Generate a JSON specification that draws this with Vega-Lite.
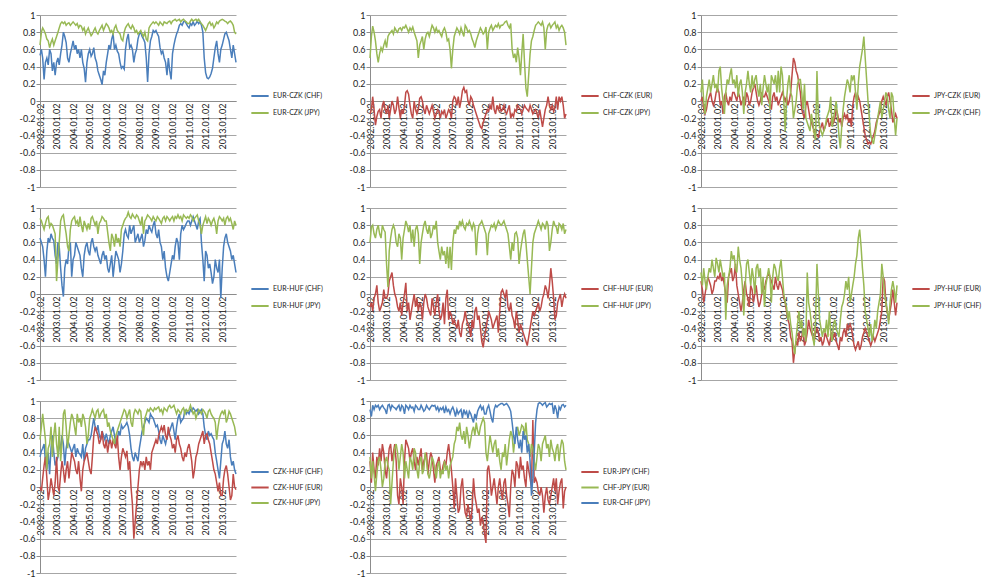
{
"$schema": "https://vega.github.io/schema/vega-lite/v6.json",
"background": "white",
"padding": {"left": 19, "top": 11, "right": 0, "bottom": 0},
"columns": 3,
"spacing": {"row": 12, "column": 26},
"resolve": {"scale": {"color": "independent", "x": "independent", "y": "independent"}, "legend": {"color": "independent"}},
"config": {
 "view": {"stroke": null},
 "font": "Lato",
 "axisX": {"grid": false, "ticks": false, "labelAngle": 270, "labelPadding": 2, "labelOverlap": false, "labelFlush": false, "labelBound": false, "domainColor": "#8c8c8c", "labelFont": "Lato", "labelFontSize": 9, "labelColor": "#222222"},
 "axisY": {"grid": true, "gridColor": "#a6a6a6", "domainColor": "#8c8c8c", "tickColor": "#8c8c8c", "tickSize": 4, "labelPadding": 1, "labelFont": "Lato", "labelFontSize": 9, "labelColor": "#222222", "labelExpr": "replace(format(datum.value,'~g'),'\u2212','-')"},
 "legend": {"orient": "none", "symbolType": "stroke", "symbolSize": 300, "symbolStrokeWidth": 2, "labelFont": "Lato", "labelFontSize": 7, "labelColor": "#222222", "labelOffset": 3, "rowPadding": 3, "padding": 0}
},
"data": {"values": [
{"t":"2002-01","a":0.53,"b":0.65,"c":-0.15,"d":0.5,"e":0,"f":0.1,"g":0.65,"h":0.88,"i":-0.15,"j":0.6,"k":0.15,"l":0.25,"m":0.35,"n":0,"o":0.55,"p":0.3,"q":0.35,"r":0.9},
{"t":"2002-02","a":0.6,"b":0.8,"c":-0.1,"d":0.75,"e":0.05,"f":0.25,"g":0.6,"h":0.85,"i":-0.1,"j":0.78,"k":0.05,"l":0.1,"m":0.42,"n":-0.05,"o":0.7,"p":0.05,"q":0.1,"r":0.82},
{"t":"2002-03","a":0.5,"b":0.85,"c":0.05,"d":0.87,"e":-0.1,"f":0,"g":0.55,"h":0.8,"i":-0.2,"j":0.8,"k":-0.1,"l":0.3,"m":0.45,"n":0.1,"o":0.85,"p":0.4,"q":0.3,"r":0.95},
{"t":"2002-04","a":0.25,"b":0.82,"c":-0.1,"d":0.8,"e":-0.15,"f":-0.15,"g":0.4,"h":0.75,"i":-0.05,"j":0.7,"k":0,"l":0.15,"m":0.5,"n":0.25,"o":0.7,"p":0.2,"q":0.15,"r":0.9},
{"t":"2002-05","a":0.45,"b":0.78,"c":-0.28,"d":0.7,"e":-0.1,"f":0.05,"g":0.2,"h":0.82,"i":0,"j":0.65,"k":0.1,"l":0.05,"m":0.3,"n":0.35,"o":0.55,"p":0.1,"q":-0.05,"r":0.95},
{"t":"2002-06","a":0.5,"b":0.72,"c":-0.18,"d":0.55,"e":0,"f":0.15,"g":0.5,"h":0.88,"i":0.1,"j":0.75,"k":0.2,"l":0.2,"m":0.2,"n":0.1,"o":0.2,"p":0.35,"q":0.15,"r":0.93},
{"t":"2002-07","a":0.42,"b":0.7,"c":-0.12,"d":0.45,"e":0.05,"f":0.25,"g":0.65,"h":0.9,"i":-0.1,"j":0.8,"k":0.15,"l":0.3,"m":0.4,"n":-0.15,"o":0.45,"p":0.25,"q":0.3,"r":0.95},
{"t":"2002-08","a":0.6,"b":0.62,"c":-0.1,"d":0.55,"e":0.1,"f":0.1,"g":0.6,"h":0.78,"i":-0.2,"j":0.7,"k":0.1,"l":0.25,"m":0.15,"n":-0.05,"o":0.5,"p":0.45,"q":0.35,"r":0.9},
{"t":"2002-09","a":0.55,"b":0.68,"c":-0.2,"d":0.62,"e":0,"f":0.2,"g":0.7,"h":0.82,"i":-0.15,"j":0.65,"k":0,"l":0.4,"m":0.45,"n":0.1,"o":0.7,"p":0.3,"q":0.2,"r":0.93},
{"t":"2002-10","a":0.35,"b":0.72,"c":-0.05,"d":0.58,"e":-0.05,"f":0.3,"g":0.65,"h":0.8,"i":-0.1,"j":0.8,"k":0.05,"l":0.3,"m":0.6,"n":0,"o":0.35,"p":0.5,"q":0,"r":0.95},
{"t":"2002-11","a":0.45,"b":0.65,"c":0,"d":0.65,"e":0,"f":0.15,"g":0.62,"h":0.75,"i":0.05,"j":0.75,"k":0.15,"l":0.2,"m":0.4,"n":-0.1,"o":0.6,"p":0.4,"q":0.1,"r":0.92},
{"t":"2002-12","a":0.3,"b":0.7,"c":-0.1,"d":0.7,"e":0.1,"f":0.2,"g":0.45,"h":0.7,"i":-0.05,"j":0.72,"k":0.15,"l":0.42,"m":0.25,"n":0.05,"o":0.75,"p":0.2,"q":0.3,"r":0.9},
{"t":"2003-01","a":0.45,"b":0.75,"c":-0.15,"d":0.62,"e":0.15,"f":0.1,"g":0.35,"h":0.15,"i":-0.05,"j":0.35,"k":0.2,"l":0.35,"m":0.3,"n":0.35,"o":0.5,"p":0.1,"q":0.35,"r":0.85},
{"t":"2003-02","a":0.5,"b":0.8,"c":-0.05,"d":0.75,"e":0.1,"f":0.35,"g":0.6,"h":0.4,"i":0,"j":0.08,"k":0.18,"l":0.25,"m":0.35,"n":0,"o":0.35,"p":0.3,"q":0.25,"r":0.95},
{"t":"2003-03","a":0.42,"b":0.85,"c":-0.2,"d":0.78,"e":-0.05,"f":0.4,"g":0.55,"h":0.6,"i":0.15,"j":0.5,"k":0.25,"l":0.4,"m":0.55,"n":-0.05,"o":0.7,"p":0.45,"q":0.2,"r":0.96},
{"t":"2003-04","a":0.55,"b":0.9,"c":-0.1,"d":0.8,"e":0,"f":0.15,"g":0.3,"h":0.85,"i":0.2,"j":0.65,"k":0.15,"l":0.3,"m":0.4,"n":0.15,"o":0.3,"p":0.5,"q":-0.2,"r":0.9},
{"t":"2003-05","a":0.65,"b":0.92,"c":0,"d":0.82,"e":-0.15,"f":0,"g":0.1,"h":0.9,"i":0.25,"j":0.75,"k":0.2,"l":0.2,"m":0.6,"n":0.3,"o":0.5,"p":0.3,"q":0.05,"r":0.95},
{"t":"2003-06","a":0.8,"b":0.9,"c":-0.05,"d":0.78,"e":0.05,"f":-0.15,"g":-0.03,"h":0.92,"i":0.1,"j":0.8,"k":0.1,"l":0.25,"m":0.5,"n":0.2,"o":0.85,"p":0.4,"q":0.3,"r":0.93},
{"t":"2003-07","a":0.75,"b":0.92,"c":-0.15,"d":0.85,"e":0.1,"f":0.1,"g":0.3,"h":0.8,"i":0,"j":0.75,"k":0,"l":-0.3,"m":0.25,"n":0.05,"o":0.9,"p":0.5,"q":0.45,"r":0.92},
{"t":"2003-08","a":0.68,"b":0.88,"c":-0.1,"d":0.82,"e":0,"f":0.25,"g":0.4,"h":0.7,"i":-0.05,"j":0.6,"k":-0.1,"l":0.1,"m":0.45,"n":0.2,"o":0.7,"p":0.3,"q":0.5,"r":0.9},
{"t":"2003-09","a":0.5,"b":0.9,"c":0.05,"d":0.8,"e":-0.05,"f":0.2,"g":0.35,"h":0.55,"i":-0.15,"j":0.55,"k":0.2,"l":0.2,"m":0.55,"n":0.3,"o":0.45,"p":-0.1,"q":0.4,"r":0.93},
{"t":"2003-10","a":0.45,"b":0.91,"c":-0.08,"d":0.84,"e":0.05,"f":0.3,"g":0.55,"h":0.5,"i":-0.2,"j":0.7,"k":0.25,"l":0.3,"m":0.5,"n":0.1,"o":0.6,"p":-0.2,"q":0.2,"r":0.95},
{"t":"2003-11","a":0.55,"b":0.88,"c":-0.2,"d":0.85,"e":0,"f":0.38,"g":0.6,"h":0.75,"i":-0.1,"j":0.65,"k":0.3,"l":0.5,"m":0.45,"n":0.25,"o":0.75,"p":0.1,"q":0.35,"r":0.88},
{"t":"2003-12","a":0.62,"b":0.9,"c":-0.1,"d":0.82,"e":0.1,"f":0.2,"g":0.2,"h":0.85,"i":-0.25,"j":0.4,"k":0.15,"l":0.4,"m":0.4,"n":0.4,"o":0.85,"p":0,"q":0.5,"r":0.95},
{"t":"2004-01","a":0.7,"b":0.92,"c":-0.15,"d":0.86,"e":0.1,"f":0.25,"g":0.4,"h":0.88,"i":-0.1,"j":0.65,"k":0.2,"l":0.45,"m":0.45,"n":0.35,"o":0.8,"p":-0.2,"q":0.4,"r":0.93},
{"t":"2004-02","a":0.6,"b":0.9,"c":-0.05,"d":0.85,"e":0.05,"f":0.15,"g":0.45,"h":0.9,"i":0,"j":0.75,"k":0.35,"l":0.3,"m":0.5,"n":0.3,"o":0.7,"p":0.3,"q":0.1,"r":0.85},
{"t":"2004-03","a":0.65,"b":0.88,"c":0.1,"d":0.88,"e":0,"f":0.3,"g":0.6,"h":0.82,"i":0.13,"j":0.85,"k":0.1,"l":0.25,"m":0.35,"n":0.2,"o":0.6,"p":0.55,"q":0.3,"r":0.95},
{"t":"2004-04","a":0.55,"b":0.9,"c":0.12,"d":0.84,"e":0.1,"f":0.05,"g":0.55,"h":0.85,"i":-0.2,"j":0.8,"k":0,"l":0.55,"m":0.45,"n":0.15,"o":0.85,"p":0.5,"q":0.2,"r":0.93},
{"t":"2004-05","a":0.6,"b":0.85,"c":0.08,"d":0.8,"e":0.05,"f":0.2,"g":0.5,"h":0.78,"i":-0.1,"j":0.72,"k":-0.1,"l":0.4,"m":0.4,"n":0.3,"o":0.75,"p":0.45,"q":0.1,"r":0.9},
{"t":"2004-06","a":0.5,"b":0.88,"c":-0.05,"d":0.85,"e":-0.05,"f":0.25,"g":0.45,"h":0.9,"i":-0.3,"j":0.8,"k":-0.2,"l":0.3,"m":0.38,"n":0.1,"o":0.8,"p":0.3,"q":0.35,"r":0.95},
{"t":"2004-07","a":0.6,"b":0.87,"c":-0.15,"d":0.82,"e":0,"f":0.1,"g":0.3,"h":0.8,"i":-0.2,"j":0.6,"k":-0.1,"l":0.1,"m":0.35,"n":-0.05,"o":0.7,"p":0.4,"q":0.3,"r":0.92},
{"t":"2004-08","a":0.45,"b":0.82,"c":-0.2,"d":0.86,"e":0.05,"f":-0.15,"g":0.2,"h":0.72,"i":-0.1,"j":0.75,"k":0.05,"l":-0.25,"m":0.5,"n":0.2,"o":0.85,"p":0.45,"q":0.2,"r":0.93},
{"t":"2004-09","a":0.38,"b":0.85,"c":0,"d":0.8,"e":-0.05,"f":0.1,"g":0.45,"h":0.85,"i":0,"j":0.55,"k":0.15,"l":0.1,"m":0.3,"n":0.3,"o":0.8,"p":0.3,"q":0.45,"r":0.88},
{"t":"2004-10","a":0.22,"b":0.78,"c":-0.1,"d":0.75,"e":0.1,"f":0.2,"g":0.55,"h":0.8,"i":-0.15,"j":0.75,"k":0,"l":0.35,"m":0.45,"n":0.35,"o":0.7,"p":0.2,"q":0.4,"r":0.95},
{"t":"2004-11","a":0.45,"b":0.82,"c":-0.15,"d":0.7,"e":0.05,"f":0.35,"g":0.6,"h":0.75,"i":-0.05,"j":0.8,"k":-0.05,"l":0.4,"m":0.5,"n":0.4,"o":0.5,"p":0.35,"q":0.2,"r":0.93},
{"t":"2004-12","a":0.55,"b":0.85,"c":-0.1,"d":0.5,"e":-0.05,"f":0.2,"g":0.5,"h":0.82,"i":-0.2,"j":0.7,"k":-0.15,"l":0.25,"m":0.55,"n":0.3,"o":0.6,"p":0.25,"q":0.1,"r":0.9},
{"t":"2005-01","a":0.6,"b":0.8,"c":0.03,"d":0.65,"e":0,"f":0.1,"g":0.45,"h":0.75,"i":-0.1,"j":0.35,"k":0.1,"l":0.1,"m":0.55,"n":0.2,"o":0.8,"p":0.35,"q":0.3,"r":0.9},
{"t":"2005-02","a":0.52,"b":0.76,"c":0.05,"d":0.7,"e":0.1,"f":0.3,"g":0.6,"h":0.88,"i":-0.15,"j":0.6,"k":0.05,"l":0.3,"m":0.6,"n":0.15,"o":0.85,"p":0.45,"q":0.35,"r":0.95},
{"t":"2005-03","a":0.55,"b":0.78,"c":0,"d":0.75,"e":0.15,"f":0.15,"g":0.65,"h":0.9,"i":-0.3,"j":0.7,"k":-0.1,"l":0.2,"m":0.7,"n":0.35,"o":0.9,"p":0.2,"q":0.15,"r":0.92},
{"t":"2005-04","a":0.62,"b":0.82,"c":-0.1,"d":0.6,"e":0.2,"f":0.25,"g":0.55,"h":0.85,"i":-0.1,"j":0.8,"k":0,"l":0,"m":0.8,"n":0.6,"o":0.85,"p":0.3,"q":0.2,"r":0.88},
{"t":"2005-05","a":0.5,"b":0.85,"c":-0.15,"d":0.72,"e":0.1,"f":0.3,"g":0.5,"h":0.8,"i":0,"j":0.85,"k":0.1,"l":0.3,"m":0.7,"n":0.7,"o":0.8,"p":0.35,"q":0.4,"r":0.9},
{"t":"2005-06","a":0.45,"b":0.8,"c":-0.05,"d":0.78,"e":0,"f":0.15,"g":0.55,"h":0.85,"i":-0.05,"j":0.75,"k":-0.05,"l":0.35,"m":0.65,"n":0.65,"o":0.88,"p":0.4,"q":0.3,"r":0.95},
{"t":"2005-07","a":0.35,"b":0.78,"c":-0.1,"d":0.8,"e":-0.05,"f":0.05,"g":0.45,"h":0.7,"i":-0.15,"j":0.7,"k":-0.15,"l":0.2,"m":0.72,"n":0.6,"o":0.9,"p":0.15,"q":0.15,"r":0.92},
{"t":"2005-08","a":0.3,"b":0.82,"c":-0.15,"d":0.75,"e":0,"f":0.2,"g":0.4,"h":0.82,"i":-0.2,"j":0.8,"k":-0.1,"l":0.3,"m":0.6,"n":0.5,"o":0.8,"p":0.3,"q":0.1,"r":0.9},
{"t":"2005-09","a":0.25,"b":0.85,"c":-0.1,"d":0.82,"e":0.1,"f":-0.05,"g":0.35,"h":0.85,"i":-0.25,"j":0.65,"k":0,"l":0,"m":0.55,"n":0.55,"o":0.85,"p":0.4,"q":0.2,"r":0.93},
{"t":"2005-10","a":0.19,"b":0.88,"c":-0.05,"d":0.88,"e":0.05,"f":0.15,"g":0.45,"h":0.9,"i":-0.05,"j":0.7,"k":0.1,"l":0.2,"m":0.65,"n":0.65,"o":0.88,"p":0.35,"q":0.35,"r":0.95},
{"t":"2005-11","a":0.35,"b":0.82,"c":-0.12,"d":0.85,"e":0.05,"f":0.3,"g":0.5,"h":0.88,"i":-0.15,"j":0.8,"k":0.05,"l":-0.15,"m":0.6,"n":0.5,"o":0.9,"p":0.2,"q":0.3,"r":0.94},
{"t":"2005-12","a":0.3,"b":0.86,"c":-0.2,"d":0.8,"e":0.1,"f":0.2,"g":0.4,"h":0.85,"i":-0.25,"j":0.75,"k":0.15,"l":0.1,"m":0.55,"n":0.45,"o":0.8,"p":0.05,"q":0.2,"r":0.95},
{"t":"2006-01","a":0.45,"b":0.9,"c":-0.15,"d":0.85,"e":0.05,"f":0.1,"g":0.45,"h":0.85,"i":-0.1,"j":0.85,"k":0.2,"l":0.2,"m":0.62,"n":0.55,"o":0.85,"p":0.25,"q":0.1,"r":0.9},
{"t":"2006-02","a":0.55,"b":0.88,"c":-0.1,"d":0.8,"e":0,"f":0.2,"g":0.3,"h":0.72,"i":0,"j":0.6,"k":0.25,"l":0.3,"m":0.55,"n":0.4,"o":0.7,"p":0.3,"q":0.25,"r":0.93},
{"t":"2006-03","a":0.65,"b":0.85,"c":-0.12,"d":0.82,"e":-0.05,"f":-0.1,"g":0.25,"h":0.6,"i":-0.2,"j":0.5,"k":0.2,"l":0.2,"m":0.5,"n":0.5,"o":0.75,"p":0.35,"q":0.3,"r":0.88},
{"t":"2006-04","a":0.6,"b":0.8,"c":-0.2,"d":0.78,"e":-0.1,"f":0.3,"g":0.35,"h":0.5,"i":-0.3,"j":0.4,"k":0.15,"l":-0.1,"m":0.6,"n":0.55,"o":0.65,"p":0.2,"q":0.1,"r":0.92},
{"t":"2006-05","a":0.72,"b":0.82,"c":-0.12,"d":0.75,"e":0.05,"f":0.25,"g":0.45,"h":0.7,"i":-0.25,"j":0.55,"k":0.1,"l":0.2,"m":0.65,"n":0.45,"o":0.6,"p":0.15,"q":0.2,"r":0.9},
{"t":"2006-06","a":0.78,"b":0.78,"c":-0.15,"d":0.82,"e":0.1,"f":0.2,"g":0.2,"h":0.65,"i":-0.1,"j":0.45,"k":0.05,"l":0.35,"m":0.7,"n":0.55,"o":0.55,"p":0.25,"q":0.15,"r":0.93},
{"t":"2006-07","a":0.6,"b":0.85,"c":-0.1,"d":0.85,"e":0,"f":0.3,"g":0.35,"h":0.55,"i":-0.35,"j":0.5,"k":0.2,"l":0.3,"m":0.6,"n":0.5,"o":0.5,"p":0.3,"q":0.3,"r":0.86},
{"t":"2006-08","a":0.65,"b":0.88,"c":-0.2,"d":0.8,"e":0.05,"f":0.1,"g":0.5,"h":0.7,"i":-0.05,"j":0.35,"k":0.1,"l":0.2,"m":0.5,"n":0.45,"o":0.6,"p":0.25,"q":0.2,"r":0.93},
{"t":"2006-09","a":0.58,"b":0.82,"c":-0.15,"d":0.7,"e":-0.05,"f":0.35,"g":0.45,"h":0.6,"i":0.05,"j":0.55,"k":0.05,"l":0.15,"m":0.55,"n":0.6,"o":0.65,"p":0.4,"q":0.25,"r":0.88},
{"t":"2006-10","a":0.55,"b":0.8,"c":-0.1,"d":0.72,"e":0,"f":0.1,"g":0.4,"h":0.65,"i":-0.3,"j":0.3,"k":0.15,"l":0.3,"m":0.65,"n":0.35,"o":0.7,"p":0.5,"q":0.1,"r":0.9},
{"t":"2006-11","a":0.45,"b":0.78,"c":-0.12,"d":0.6,"e":0.05,"f":0.4,"g":0.25,"h":0.55,"i":-0.2,"j":0.55,"k":0.1,"l":0.4,"m":0.6,"n":0.2,"o":0.75,"p":0.35,"q":0.25,"r":0.85},
{"t":"2006-12","a":0.38,"b":0.72,"c":-0.2,"d":0.38,"e":0.1,"f":0.3,"g":0.35,"h":0.75,"i":-0.25,"j":0.28,"k":0.05,"l":0.2,"m":0.72,"n":0.35,"o":0.8,"p":0.2,"q":0.3,"r":0.9},
{"t":"2007-01","a":0.4,"b":0.7,"c":0,"d":0.6,"e":0.05,"f":0,"g":0.5,"h":0.8,"i":-0.35,"j":0.6,"k":-0.05,"l":0,"m":0.68,"n":0.45,"o":0.85,"p":0,"q":0.35,"r":0.93},
{"t":"2007-02","a":0.37,"b":0.8,"c":0.05,"d":0.75,"e":0,"f":-0.35,"g":0.7,"h":0.85,"i":-0.3,"j":0.75,"k":-0.1,"l":-0.1,"m":0.7,"n":0.4,"o":0.9,"p":-0.25,"q":0.5,"r":0.88},
{"t":"2007-03","a":0.6,"b":0.85,"c":0.03,"d":0.8,"e":0.05,"f":0,"g":0.75,"h":0.88,"i":-0.35,"j":0.7,"k":-0.2,"l":-0.15,"m":0.72,"n":0.35,"o":0.88,"p":0.1,"q":0.55,"r":0.82},
{"t":"2007-04","a":0.72,"b":0.88,"c":-0.05,"d":0.85,"e":-0.05,"f":0.2,"g":0.68,"h":0.9,"i":-0.4,"j":0.8,"k":-0.3,"l":-0.3,"m":0.75,"n":0.42,"o":0.8,"p":-0.1,"q":0.7,"r":0.9},
{"t":"2007-05","a":0.78,"b":0.9,"c":0.05,"d":0.82,"e":0,"f":0.3,"g":0.65,"h":0.95,"i":-0.3,"j":0.75,"k":-0.35,"l":-0.2,"m":0.7,"n":0.2,"o":0.85,"p":-0.3,"q":0.65,"r":0.85},
{"t":"2007-06","a":0.62,"b":0.86,"c":-0.08,"d":0.78,"e":0.1,"f":0.1,"g":0.8,"h":0.9,"i":-0.45,"j":0.85,"k":-0.5,"l":-0.35,"m":0.6,"n":0.3,"o":0.9,"p":-0.25,"q":0.75,"r":0.88},
{"t":"2007-07","a":0.65,"b":0.84,"c":0,"d":0.85,"e":0.3,"f":0.05,"g":0.7,"h":0.88,"i":-0.5,"j":0.8,"k":-0.55,"l":-0.45,"m":0.45,"n":0,"o":0.75,"p":0,"q":0.6,"r":0.9},
{"t":"2007-08","a":0.6,"b":0.88,"c":0.12,"d":0.8,"e":0.5,"f":-0.2,"g":0.75,"h":0.93,"i":-0.35,"j":0.85,"k":-0.8,"l":-0.6,"m":0.35,"n":-0.2,"o":0.7,"p":0.1,"q":0.55,"r":0.8},
{"t":"2007-09","a":0.45,"b":0.85,"c":0.16,"d":0.75,"e":0.45,"f":-0.1,"g":0.8,"h":0.9,"i":-0.3,"j":0.78,"k":-0.65,"l":-0.7,"m":0.3,"n":-0.6,"o":0.85,"p":-0.15,"q":0.65,"r":0.9},
{"t":"2007-10","a":0.55,"b":0.8,"c":0.1,"d":0.88,"e":0.35,"f":0,"g":0.6,"h":0.88,"i":-0.2,"j":0.75,"k":-0.55,"l":-0.5,"m":0.4,"n":-0.4,"o":0.9,"p":-0.3,"q":0.5,"r":0.85},
{"t":"2007-11","a":0.6,"b":0.82,"c":0.12,"d":0.85,"e":0.3,"f":0.2,"g":0.65,"h":0.92,"i":-0.3,"j":0.82,"k":-0.6,"l":-0.35,"m":0.35,"n":-0.2,"o":0.88,"p":-0.35,"q":0.7,"r":0.88},
{"t":"2007-12","a":0.72,"b":0.78,"c":0,"d":0.8,"e":0.2,"f":0.25,"g":0.7,"h":0.9,"i":-0.35,"j":0.8,"k":-0.45,"l":-0.2,"m":0.3,"n":0,"o":0.85,"p":-0.2,"q":0.6,"r":0.8},
{"t":"2008-01","a":0.78,"b":0.8,"c":-0.05,"d":0.82,"e":0.1,"f":0.25,"g":0.6,"h":0.85,"i":-0.4,"j":0.85,"k":-0.55,"l":-0.4,"m":0.45,"n":0.2,"o":0.9,"p":-0.3,"q":0.45,"r":0.88},
{"t":"2008-02","a":0.8,"b":0.82,"c":0.05,"d":0.78,"e":-0.1,"f":0.1,"g":0.65,"h":0.8,"i":-0.5,"j":0.8,"k":-0.5,"l":-0.3,"m":0.55,"n":0.3,"o":0.88,"p":-0.4,"q":0.55,"r":0.85},
{"t":"2008-03","a":0.75,"b":0.78,"c":0.02,"d":0.72,"e":-0.15,"f":-0.1,"g":0.7,"h":0.9,"i":-0.3,"j":0.75,"k":-0.4,"l":-0.5,"m":0.65,"n":0.25,"o":0.7,"p":-0.25,"q":0.65,"r":0.8},
{"t":"2008-04","a":0.72,"b":0.75,"c":-0.05,"d":0.68,"e":-0.2,"f":0.2,"g":0.55,"h":0.7,"i":-0.4,"j":0.82,"k":-0.6,"l":-0.4,"m":0.7,"n":0.3,"o":0.6,"p":0.1,"q":0.7,"r":0.75},
{"t":"2008-05","a":0.68,"b":0.8,"c":-0.1,"d":0.62,"e":-0.05,"f":-0.2,"g":0.62,"h":0.85,"i":-0.2,"j":0.78,"k":-0.55,"l":-0.55,"m":0.75,"n":0.2,"o":0.8,"p":-0.1,"q":0.6,"r":0.85},
{"t":"2008-06","a":0.5,"b":0.72,"c":-0.15,"d":0.7,"e":0,"f":-0.25,"g":0.75,"h":0.88,"i":-0.15,"j":0.45,"k":-0.45,"l":0.25,"m":0.8,"n":0.35,"o":0.85,"p":-0.2,"q":0.75,"r":0.8},
{"t":"2008-07","a":0.22,"b":0.7,"c":-0.2,"d":0.75,"e":-0.1,"f":-0.3,"g":0.7,"h":0.92,"i":-0.3,"j":0.7,"k":-0.3,"l":-0.1,"m":0.78,"n":0.25,"o":0.9,"p":-0.3,"q":0.65,"r":0.88},
{"t":"2008-08","a":0.55,"b":0.85,"c":-0.25,"d":0.8,"e":-0.2,"f":-0.35,"g":0.8,"h":0.9,"i":-0.25,"j":0.8,"k":-0.4,"l":-0.2,"m":0.75,"n":0.3,"o":0.88,"p":-0.25,"q":0.6,"r":0.92},
{"t":"2008-09","a":0.7,"b":0.88,"c":-0.3,"d":0.85,"e":-0.25,"f":-0.15,"g":0.75,"h":0.88,"i":-0.4,"j":0.82,"k":-0.45,"l":-0.35,"m":0.85,"n":0.2,"o":0.92,"p":-0.45,"q":0.7,"r":0.95},
{"t":"2008-10","a":0.75,"b":0.9,"c":-0.32,"d":0.82,"e":-0.3,"f":-0.25,"g":0.72,"h":0.85,"i":-0.55,"j":0.85,"k":-0.5,"l":-0.5,"m":0.82,"n":0.4,"o":0.9,"p":-0.35,"q":0.75,"r":0.9},
{"t":"2008-11","a":0.82,"b":0.92,"c":-0.25,"d":0.78,"e":-0.35,"f":-0.38,"g":0.8,"h":0.9,"i":-0.62,"j":0.8,"k":-0.55,"l":-0.6,"m":0.8,"n":0.45,"o":0.88,"p":-0.4,"q":0.8,"r":0.93},
{"t":"2008-12","a":0.8,"b":0.9,"c":-0.2,"d":0.8,"e":-0.38,"f":-0.45,"g":0.85,"h":0.87,"i":-0.5,"j":0.75,"k":-0.45,"l":-0.3,"m":0.75,"n":0.5,"o":0.92,"p":-0.55,"q":0.75,"r":0.85},
{"t":"2009-01","a":0.82,"b":0.92,"c":-0.15,"d":0.86,"e":-0.4,"f":0.35,"g":0.7,"h":0.85,"i":-0.4,"j":0.7,"k":-0.4,"l":0.35,"m":0.7,"n":0.55,"o":0.9,"p":-0.65,"q":0.4,"r":0.85},
{"t":"2009-02","a":0.78,"b":0.9,"c":-0.1,"d":0.6,"e":-0.42,"f":-0.2,"g":0.65,"h":0.9,"i":-0.3,"j":0.45,"k":-0.45,"l":0,"m":0.72,"n":0.5,"o":0.92,"p":0.2,"q":0.3,"r":0.92},
{"t":"2009-03","a":0.75,"b":0.88,"c":-0.12,"d":0.8,"e":-0.35,"f":-0.3,"g":0.75,"h":0.88,"i":-0.2,"j":0.7,"k":-0.55,"l":-0.3,"m":0.65,"n":0.6,"o":0.93,"p":0.25,"q":0.45,"r":0.95},
{"t":"2009-04","a":0.62,"b":0.92,"c":-0.05,"d":0.85,"e":-0.3,"f":-0.35,"g":0.6,"h":0.85,"i":-0.25,"j":0.75,"k":-0.5,"l":-0.4,"m":0.55,"n":0.65,"o":0.88,"p":0.1,"q":0.6,"r":0.88},
{"t":"2009-05","a":0.55,"b":0.9,"c":-0.1,"d":0.88,"e":-0.25,"f":-0.4,"g":0.55,"h":0.82,"i":-0.3,"j":0.8,"k":-0.6,"l":-0.5,"m":0.5,"n":0.7,"o":0.9,"p":-0.1,"q":0.5,"r":0.8},
{"t":"2009-06","a":0.58,"b":0.88,"c":0.05,"d":0.82,"e":-0.35,"f":-0.35,"g":0.4,"h":0.88,"i":-0.4,"j":0.78,"k":-0.55,"l":-0.4,"m":0.6,"n":0.65,"o":0.85,"p":0,"q":0.4,"r":0.75},
{"t":"2009-07","a":0.5,"b":0.92,"c":-0.1,"d":0.85,"e":-0.3,"f":-0.3,"g":0.5,"h":0.9,"i":-0.35,"j":0.82,"k":-0.45,"l":-0.45,"m":0.55,"n":0.72,"o":0.92,"p":0.1,"q":0.5,"r":0.9},
{"t":"2009-08","a":0.45,"b":0.91,"c":-0.15,"d":0.88,"e":-0.25,"f":-0.2,"g":0.3,"h":0.85,"i":-0.3,"j":0.75,"k":-0.5,"l":-0.3,"m":0.5,"n":0.6,"o":0.9,"p":-0.05,"q":0.55,"r":0.95},
{"t":"2009-09","a":0.3,"b":0.9,"c":-0.05,"d":0.86,"e":-0.2,"f":-0.15,"g":0.2,"h":0.9,"i":-0.25,"j":0.8,"k":-0.55,"l":-0.5,"m":0.58,"n":0.55,"o":0.88,"p":-0.2,"q":0.35,"r":0.93},
{"t":"2009-10","a":0.5,"b":0.92,"c":-0.1,"d":0.9,"e":-0.3,"f":-0.1,"g":0.15,"h":0.88,"i":-0.45,"j":0.85,"k":-0.6,"l":-0.2,"m":0.62,"n":0.7,"o":0.93,"p":0,"q":0.45,"r":0.95},
{"t":"2009-11","a":0.35,"b":0.93,"c":-0.05,"d":0.85,"e":-0.25,"f":0.05,"g":0.25,"h":0.85,"i":-0.2,"j":0.82,"k":-0.5,"l":-0.45,"m":0.65,"n":0.6,"o":0.95,"p":0.1,"q":0.3,"r":0.96},
{"t":"2009-12","a":0.25,"b":0.9,"c":-0.12,"d":0.88,"e":-0.2,"f":-0.3,"g":0.35,"h":0.88,"i":0.02,"j":0.8,"k":-0.45,"l":-0.55,"m":0.7,"n":0.55,"o":0.92,"p":-0.05,"q":0.2,"r":0.97},
{"t":"2010-01","a":0.55,"b":0.93,"c":-0.1,"d":0.88,"e":-0.25,"f":-0.2,"g":0.45,"h":0.9,"i":0.05,"j":0.82,"k":-0.5,"l":-0.35,"m":0.75,"n":0.45,"o":0.93,"p":-0.15,"q":0.4,"r":0.97},
{"t":"2010-02","a":0.65,"b":0.94,"c":-0.05,"d":0.9,"e":-0.2,"f":-0.1,"g":0.4,"h":0.85,"i":0,"j":0.85,"k":-0.45,"l":-0.3,"m":0.65,"n":0.5,"o":0.95,"p":0.05,"q":0.35,"r":0.95},
{"t":"2010-03","a":0.72,"b":0.95,"c":-0.12,"d":0.92,"e":-0.1,"f":0,"g":0.55,"h":0.9,"i":-0.05,"j":0.8,"k":-0.55,"l":-0.4,"m":0.55,"n":0.4,"o":0.9,"p":0.1,"q":0.5,"r":0.96},
{"t":"2010-04","a":0.78,"b":0.93,"c":-0.15,"d":0.93,"e":-0.15,"f":-0.2,"g":0.65,"h":0.88,"i":0.05,"j":0.75,"k":-0.6,"l":-0.45,"m":0.7,"n":0.55,"o":0.85,"p":-0.1,"q":0.25,"r":0.97},
{"t":"2010-05","a":0.82,"b":0.94,"c":-0.1,"d":0.88,"e":-0.25,"f":-0.4,"g":0.6,"h":0.92,"i":-0.15,"j":0.7,"k":-0.65,"l":-0.5,"m":0.8,"n":0.6,"o":0.9,"p":-0.2,"q":0.4,"r":0.95},
{"t":"2010-06","a":0.88,"b":0.95,"c":-0.05,"d":0.85,"e":-0.2,"f":-0.55,"g":0.4,"h":0.88,"i":-0.2,"j":0.55,"k":-0.5,"l":-0.3,"m":0.85,"n":0.5,"o":0.88,"p":-0.35,"q":0.55,"r":0.92},
{"t":"2010-07","a":0.9,"b":0.92,"c":-0.2,"d":0.9,"e":-0.3,"f":-0.3,"g":0.7,"h":0.9,"i":-0.1,"j":0.4,"k":-0.55,"l":-0.15,"m":0.75,"n":0.45,"o":0.85,"p":0,"q":0.65,"r":0.88},
{"t":"2010-08","a":0.88,"b":0.94,"c":-0.15,"d":0.6,"e":-0.2,"f":-0.1,"g":0.8,"h":0.85,"i":-0.25,"j":0.6,"k":-0.45,"l":-0.1,"m":0.78,"n":0.35,"o":0.9,"p":0.2,"q":0.6,"r":0.75},
{"t":"2010-09","a":0.92,"b":0.95,"c":-0.18,"d":0.5,"e":-0.15,"f":0.05,"g":0.75,"h":0.92,"i":-0.3,"j":0.5,"k":-0.4,"l":0,"m":0.8,"n":0.3,"o":0.92,"p":0.15,"q":0.4,"r":0.6},
{"t":"2010-10","a":0.93,"b":0.93,"c":-0.1,"d":0.55,"e":-0.2,"f":0.15,"g":0.78,"h":0.9,"i":-0.4,"j":0.7,"k":-0.5,"l":0.15,"m":0.9,"n":0.4,"o":0.85,"p":0,"q":0.55,"r":0.5},
{"t":"2010-11","a":0.9,"b":0.92,"c":-0.12,"d":0.45,"e":-0.15,"f":0.25,"g":0.82,"h":0.88,"i":-0.2,"j":0.72,"k":-0.35,"l":0.05,"m":0.85,"n":0.35,"o":0.9,"p":0.3,"q":0.65,"r":0.7},
{"t":"2010-12","a":0.87,"b":0.9,"c":-0.05,"d":0.62,"e":-0.25,"f":0.2,"g":0.85,"h":0.9,"i":-0.3,"j":0.65,"k":-0.4,"l":0.2,"m":0.88,"n":0.45,"o":0.88,"p":0.25,"q":0.7,"r":0.55},
{"t":"2011-01","a":0.85,"b":0.9,"c":-0.08,"d":0.5,"e":-0.2,"f":0.1,"g":0.85,"h":0.88,"i":-0.45,"j":0.35,"k":-0.35,"l":-0.1,"m":0.85,"n":0.5,"o":0.9,"p":0.1,"q":0.6,"r":0.45},
{"t":"2011-02","a":0.9,"b":0.93,"c":-0.1,"d":0.3,"e":-0.3,"f":0.3,"g":0.8,"h":0.92,"i":-0.35,"j":0.5,"k":-0.4,"l":0,"m":0.9,"n":0.4,"o":0.95,"p":0.35,"q":0.65,"r":0.55},
{"t":"2011-03","a":0.88,"b":0.95,"c":-0.15,"d":0.55,"e":-0.05,"f":0.25,"g":0.85,"h":0.9,"i":-0.4,"j":0.6,"k":-0.5,"l":0.1,"m":0.88,"n":0.3,"o":0.9,"p":0.2,"q":0.72,"r":0.4},
{"t":"2011-04","a":0.92,"b":0.93,"c":-0.1,"d":0.78,"e":0.05,"f":0.3,"g":0.9,"h":0.85,"i":-0.45,"j":0.7,"k":-0.6,"l":0.2,"m":0.92,"n":0.1,"o":0.85,"p":0.25,"q":0.7,"r":0.65},
{"t":"2011-05","a":0.88,"b":0.94,"c":-0.05,"d":0.45,"e":0.1,"f":0.1,"g":0.85,"h":0.88,"i":-0.5,"j":0.75,"k":-0.65,"l":0.35,"m":0.9,"n":0.2,"o":0.88,"p":0.1,"q":0.6,"r":0.55},
{"t":"2011-06","a":0.9,"b":0.95,"c":-0.08,"d":0.15,"e":0,"f":-0.1,"g":0.8,"h":0.9,"i":-0.55,"j":0.6,"k":-0.6,"l":0.45,"m":0.88,"n":0.35,"o":0.8,"p":0,"q":0.75,"r":0.6},
{"t":"2011-07","a":0.93,"b":0.93,"c":-0.1,"d":0.05,"e":0.05,"f":0.2,"g":0.75,"h":0.92,"i":-0.6,"j":0.4,"k":-0.55,"l":0.65,"m":0.9,"n":0.4,"o":0.85,"p":0.3,"q":0.55,"r":0.4},
{"t":"2011-08","a":0.9,"b":0.95,"c":-0.12,"d":0.3,"e":0,"f":0.4,"g":0.85,"h":0.85,"i":-0.5,"j":0.2,"k":-0.65,"l":0.75,"m":0.85,"n":0.5,"o":0.9,"p":0.2,"q":0.5,"r":0.5},
{"t":"2011-09","a":0.92,"b":0.92,"c":-0.05,"d":0.55,"e":-0.1,"f":0.5,"g":0.88,"h":0.8,"i":-0.4,"j":0,"k":-0.6,"l":0.55,"m":0.88,"n":0.55,"o":0.88,"p":0.1,"q":0.35,"r":0.3},
{"t":"2011-10","a":0.88,"b":0.9,"c":-0.1,"d":0.7,"e":-0.2,"f":0.6,"g":0.6,"h":0.7,"i":-0.3,"j":0.3,"k":-0.5,"l":0.3,"m":0.9,"n":0.6,"o":0.85,"p":0,"q":0.5,"r":-0.1},
{"t":"2011-11","a":0.8,"b":0.88,"c":-0.15,"d":0.75,"e":-0.3,"f":0.75,"g":0.4,"h":0.8,"i":-0.2,"j":0.6,"k":-0.45,"l":0.1,"m":0.85,"n":0.65,"o":0.9,"p":0.78,"q":0.45,"r":0.1},
{"t":"2011-12","a":0.5,"b":0.85,"c":-0.12,"d":0.82,"e":-0.4,"f":0.5,"g":0.15,"h":0.85,"i":-0.25,"j":0.7,"k":-0.4,"l":-0.2,"m":0.7,"n":0.5,"o":0.88,"p":0.05,"q":0.3,"r":0.4},
{"t":"2012-01","a":0.33,"b":0.82,"c":-0.1,"d":0.88,"e":-0.45,"f":0.25,"g":0.5,"h":0.9,"i":-0.2,"j":0.75,"k":-0.45,"l":-0.3,"m":0.6,"n":0.6,"o":0.85,"p":0.1,"q":0.2,"r":0.75},
{"t":"2012-02","a":0.27,"b":0.86,"c":-0.15,"d":0.9,"e":-0.5,"f":0,"g":0.45,"h":0.82,"i":-0.15,"j":0.8,"k":-0.5,"l":-0.4,"m":0.55,"n":0.62,"o":0.8,"p":0.05,"q":0.35,"r":0.9},
{"t":"2012-03","a":0.26,"b":0.9,"c":-0.2,"d":0.92,"e":-0.48,"f":-0.2,"g":0.3,"h":0.88,"i":-0.1,"j":0.85,"k":-0.55,"l":-0.5,"m":0.65,"n":0.55,"o":0.88,"p":-0.05,"q":0.5,"r":0.97},
{"t":"2012-04","a":0.28,"b":0.92,"c":-0.1,"d":0.9,"e":-0.5,"f":-0.4,"g":0.35,"h":0.85,"i":-0.2,"j":0.8,"k":-0.6,"l":-0.35,"m":0.6,"n":0.5,"o":0.9,"p":-0.1,"q":0.45,"r":0.98},
{"t":"2012-05","a":0.32,"b":0.88,"c":-0.2,"d":0.88,"e":-0.45,"f":-0.45,"g":0.25,"h":0.8,"i":-0.15,"j":0.75,"k":-0.55,"l":-0.55,"m":0.62,"n":0.4,"o":0.85,"p":0,"q":0.3,"r":0.97},
{"t":"2012-06","a":0.38,"b":0.9,"c":-0.3,"d":0.92,"e":-0.4,"f":-0.5,"g":0.12,"h":0.85,"i":-0.05,"j":0.82,"k":-0.5,"l":-0.45,"m":0.58,"n":0.3,"o":0.82,"p":-0.1,"q":0.5,"r":0.95},
{"t":"2012-07","a":0.5,"b":0.85,"c":-0.2,"d":0.85,"e":-0.35,"f":-0.4,"g":0.2,"h":0.88,"i":0,"j":0.8,"k":-0.55,"l":-0.3,"m":0.55,"n":0.2,"o":0.8,"p":-0.3,"q":0.55,"r":0.97},
{"t":"2012-08","a":0.62,"b":0.88,"c":-0.1,"d":0.6,"e":-0.25,"f":-0.3,"g":0.4,"h":0.82,"i":0.1,"j":0.75,"k":-0.5,"l":-0.4,"m":0.4,"n":0.15,"o":0.75,"p":-0.1,"q":0.6,"r":0.98},
{"t":"2012-09","a":0.7,"b":0.92,"c":-0.05,"d":0.82,"e":-0.2,"f":-0.2,"g":0.3,"h":0.7,"i":0.05,"j":0.85,"k":-0.45,"l":-0.2,"m":0.3,"n":0.05,"o":0.55,"p":0,"q":0.45,"r":0.93},
{"t":"2012-10","a":0.55,"b":0.9,"c":0.05,"d":0.88,"e":-0.15,"f":-0.1,"g":0.25,"h":0.85,"i":-0.05,"j":0.8,"k":-0.4,"l":-0.1,"m":0.2,"n":-0.05,"o":0.7,"p":-0.15,"q":0.5,"r":0.95},
{"t":"2012-11","a":0.45,"b":0.93,"c":-0.05,"d":0.9,"e":-0.1,"f":0,"g":0.4,"h":0.9,"i":0.1,"j":0.5,"k":-0.3,"l":0,"m":0.1,"n":0.05,"o":0.8,"p":-0.2,"q":0.35,"r":0.97},
{"t":"2012-12","a":0.6,"b":0.94,"c":-0.1,"d":0.85,"e":0,"f":-0.2,"g":-0.05,"h":0.88,"i":0.3,"j":0.6,"k":-0.2,"l":0.35,"m":0.3,"n":-0.1,"o":0.85,"p":-0.1,"q":0.55,"r":0.96},
{"t":"2013-01","a":0.65,"b":0.95,"c":-0.05,"d":0.88,"e":0.05,"f":-0.1,"g":0.3,"h":0.85,"i":0.15,"j":0.75,"k":0.2,"l":0.2,"m":0.5,"n":-0.1,"o":0.88,"p":0,"q":0.45,"r":0.97},
{"t":"2013-02","a":0.72,"b":0.94,"c":-0.12,"d":0.9,"e":0,"f":0,"g":0.55,"h":0.88,"i":-0.05,"j":0.85,"k":0.15,"l":0,"m":0.55,"n":0.1,"o":0.85,"p":0.1,"q":0.4,"r":0.85},
{"t":"2013-03","a":0.78,"b":0.93,"c":-0.08,"d":0.92,"e":-0.05,"f":0.1,"g":0.65,"h":0.8,"i":-0.3,"j":0.8,"k":-0.1,"l":-0.1,"m":0.65,"n":0.2,"o":0.9,"p":-0.05,"q":0.3,"r":0.95},
{"t":"2013-04","a":0.8,"b":0.92,"c":0.05,"d":0.85,"e":0.05,"f":0.05,"g":0.7,"h":0.88,"i":-0.25,"j":0.78,"k":-0.2,"l":-0.2,"m":0.5,"n":0.25,"o":0.75,"p":0.1,"q":0.45,"r":0.9},
{"t":"2013-05","a":0.75,"b":0.9,"c":-0.1,"d":0.88,"e":0.1,"f":-0.1,"g":0.6,"h":0.9,"i":-0.1,"j":0.7,"k":-0.3,"l":-0.35,"m":0.45,"n":0.15,"o":0.8,"p":-0.2,"q":0.5,"r":0.8},
{"t":"2013-06","a":0.7,"b":0.92,"c":0.05,"d":0.82,"e":0,"f":-0.2,"g":0.55,"h":0.85,"i":-0.05,"j":0.82,"k":-0.2,"l":-0.1,"m":0.55,"n":0,"o":0.88,"p":-0.05,"q":0.3,"r":0.93},
{"t":"2013-07","a":0.6,"b":0.93,"c":0,"d":0.86,"e":-0.1,"f":0.1,"g":0.5,"h":0.88,"i":0,"j":0.8,"k":-0.1,"l":0.05,"m":0.35,"n":-0.15,"o":0.85,"p":0.05,"q":0.45,"r":0.9},
{"t":"2013-08","a":0.5,"b":0.91,"c":0.05,"d":0.88,"e":-0.25,"f":0.05,"g":0.4,"h":0.82,"i":-0.15,"j":0.75,"k":0.05,"l":0.15,"m":0.25,"n":-0.1,"o":0.8,"p":0.1,"q":0.55,"r":0.95},
{"t":"2013-09","a":0.65,"b":0.88,"c":-0.05,"d":0.85,"e":-0.2,"f":-0.2,"g":0.45,"h":0.75,"i":-0.05,"j":0.82,"k":-0.1,"l":0.05,"m":0.3,"n":0.15,"o":0.75,"p":-0.25,"q":0.5,"r":0.96},
{"t":"2013-10","a":0.55,"b":0.8,"c":-0.2,"d":0.8,"e":-0.15,"f":-0.4,"g":0.35,"h":0.85,"i":0,"j":0.7,"k":-0.25,"l":-0.1,"m":0.2,"n":0,"o":0.7,"p":-0.05,"q":0.3,"r":0.93},
{"t":"2013-11","a":0.45,"b":0.78,"c":-0.15,"d":0.65,"e":-0.2,"f":-0.2,"g":0.25,"h":0.8,"i":-0.05,"j":0.75,"k":-0.1,"l":0.1,"m":0.15,"n":-0.03,"o":0.6,"p":0,"q":0.2,"r":0.95}
]},
"concat": [
{"width":196,"height":172,"transform":[{"fold":["a","b"],"as":["s","v"]}],"mark":{"type":"line","strokeWidth":1.5},
 "encoding":{
  "x":{"field":"t","type":"temporal","scale":{"type":"utc","nice":false},"axis":{"offset":-86,"tickCount":12,"labelExpr":"utcFormat(datum.value,'%Y.%m')+'.02'","title":null}},
  "y":{"field":"v","type":"quantitative","scale":{"domain":[-1,1],"nice":false},"axis":{"values":[-1,-0.8,-0.6,-0.4,-0.2,0,0.2,0.4,0.6,0.8,1],"title":null}},
  "color":{"field":"s","type":"nominal","scale":{"domain":["a","b"],"range":["#4A7EBB","#98B954"]},"legend":{"title":null,"legendX":210,"legendY":71,"labelExpr":"datum.label=='a'?'EUR-CZK (CHF)':'EUR-CZK (JPY)'"}}}},
{"width":196,"height":172,"transform":[{"fold":["c","d"],"as":["s","v"]}],"mark":{"type":"line","strokeWidth":1.5},
 "encoding":{
  "x":{"field":"t","type":"temporal","scale":{"type":"utc","nice":false},"axis":{"offset":-86,"tickCount":12,"labelExpr":"utcFormat(datum.value,'%Y.%m')+'.02'","title":null}},
  "y":{"field":"v","type":"quantitative","scale":{"domain":[-1,1],"nice":false},"axis":{"values":[-1,-0.8,-0.6,-0.4,-0.2,0,0.2,0.4,0.6,0.8,1],"title":null}},
  "color":{"field":"s","type":"nominal","scale":{"domain":["c","d"],"range":["#BE4B48","#98B954"]},"legend":{"title":null,"legendX":210,"legendY":71,"labelExpr":"datum.label=='c'?'CHF-CZK (EUR)':'CHF-CZK (JPY)'"}}}},
{"width":196,"height":172,"transform":[{"fold":["e","f"],"as":["s","v"]}],"mark":{"type":"line","strokeWidth":1.5},
 "encoding":{
  "x":{"field":"t","type":"temporal","scale":{"type":"utc","nice":false},"axis":{"offset":-86,"tickCount":12,"labelExpr":"utcFormat(datum.value,'%Y.%m')+'.02'","title":null}},
  "y":{"field":"v","type":"quantitative","scale":{"domain":[-1,1],"nice":false},"axis":{"values":[-1,-0.8,-0.6,-0.4,-0.2,0,0.2,0.4,0.6,0.8,1],"title":null}},
  "color":{"field":"s","type":"nominal","scale":{"domain":["e","f"],"range":["#BE4B48","#98B954"]},"legend":{"title":null,"legendX":210,"legendY":71,"labelExpr":"datum.label=='e'?'JPY-CZK (EUR)':'JPY-CZK (CHF)'"}}}},
{"width":196,"height":172,"transform":[{"fold":["g","h"],"as":["s","v"]}],"mark":{"type":"line","strokeWidth":1.5},
 "encoding":{
  "x":{"field":"t","type":"temporal","scale":{"type":"utc","nice":false},"axis":{"offset":-86,"tickCount":12,"labelExpr":"utcFormat(datum.value,'%Y.%m')+'.02'","title":null}},
  "y":{"field":"v","type":"quantitative","scale":{"domain":[-1,1],"nice":false},"axis":{"values":[-1,-0.8,-0.6,-0.4,-0.2,0,0.2,0.4,0.6,0.8,1],"title":null}},
  "color":{"field":"s","type":"nominal","scale":{"domain":["g","h"],"range":["#4A7EBB","#98B954"]},"legend":{"title":null,"legendX":210,"legendY":71,"labelExpr":"datum.label=='g'?'EUR-HUF (CHF)':'EUR-HUF (JPY)'"}}}},
{"width":196,"height":172,"transform":[{"fold":["i","j"],"as":["s","v"]}],"mark":{"type":"line","strokeWidth":1.5},
 "encoding":{
  "x":{"field":"t","type":"temporal","scale":{"type":"utc","nice":false},"axis":{"offset":-86,"tickCount":12,"labelExpr":"utcFormat(datum.value,'%Y.%m')+'.02'","title":null}},
  "y":{"field":"v","type":"quantitative","scale":{"domain":[-1,1],"nice":false},"axis":{"values":[-1,-0.8,-0.6,-0.4,-0.2,0,0.2,0.4,0.6,0.8,1],"title":null}},
  "color":{"field":"s","type":"nominal","scale":{"domain":["i","j"],"range":["#BE4B48","#98B954"]},"legend":{"title":null,"legendX":210,"legendY":71,"labelExpr":"datum.label=='i'?'CHF-HUF (EUR)':'CHF-HUF (JPY)'"}}}},
{"width":196,"height":172,"transform":[{"fold":["k","l"],"as":["s","v"]}],"mark":{"type":"line","strokeWidth":1.5},
 "encoding":{
  "x":{"field":"t","type":"temporal","scale":{"type":"utc","nice":false},"axis":{"offset":-86,"tickCount":12,"labelExpr":"utcFormat(datum.value,'%Y.%m')+'.02'","title":null}},
  "y":{"field":"v","type":"quantitative","scale":{"domain":[-1,1],"nice":false},"axis":{"values":[-1,-0.8,-0.6,-0.4,-0.2,0,0.2,0.4,0.6,0.8,1],"title":null}},
  "color":{"field":"s","type":"nominal","scale":{"domain":["k","l"],"range":["#BE4B48","#98B954"]},"legend":{"title":null,"legendX":210,"legendY":71,"labelExpr":"datum.label=='k'?'JPY-HUF (EUR)':'JPY-HUF (CHF)'"}}}},
{"width":196,"height":172,"transform":[{"fold":["m","n","o"],"as":["s","v"]}],"mark":{"type":"line","strokeWidth":1.5},
 "encoding":{
  "x":{"field":"t","type":"temporal","scale":{"type":"utc","nice":false},"axis":{"offset":-86,"tickCount":12,"labelExpr":"utcFormat(datum.value,'%Y.%m')+'.02'","title":null}},
  "y":{"field":"v","type":"quantitative","scale":{"domain":[-1,1],"nice":false},"axis":{"values":[-1,-0.8,-0.6,-0.4,-0.2,0,0.2,0.4,0.6,0.8,1],"title":null}},
  "color":{"field":"s","type":"nominal","scale":{"domain":["m","n","o"],"range":["#4A7EBB","#BE4B48","#98B954"]},"legend":{"title":null,"legendX":210,"legendY":61,"rowPadding":1.5,"labelExpr":"datum.label=='m'?'CZK-HUF (CHF)':datum.label=='n'?'CZK-HUF (EUR)':'CZK-HUF (JPY)'"}}}},
{"width":196,"height":172,"transform":[{"fold":["p","q","r"],"as":["s","v"]}],"mark":{"type":"line","strokeWidth":1.5},
 "encoding":{
  "x":{"field":"t","type":"temporal","scale":{"type":"utc","nice":false},"axis":{"offset":-86,"tickCount":12,"labelExpr":"utcFormat(datum.value,'%Y.%m')+'.02'","title":null}},
  "y":{"field":"v","type":"quantitative","scale":{"domain":[-1,1],"nice":false},"axis":{"values":[-1,-0.8,-0.6,-0.4,-0.2,0,0.2,0.4,0.6,0.8,1],"title":null}},
  "color":{"field":"s","type":"nominal","scale":{"domain":["p","q","r"],"range":["#BE4B48","#98B954","#4A7EBB"]},"legend":{"title":null,"legendX":210,"legendY":61,"rowPadding":1.5,"labelExpr":"datum.label=='p'?'EUR-JPY (CHF)':datum.label=='q'?'CHF-JPY (EUR)':'EUR-CHF (JPY)'"}}}}
]
}
